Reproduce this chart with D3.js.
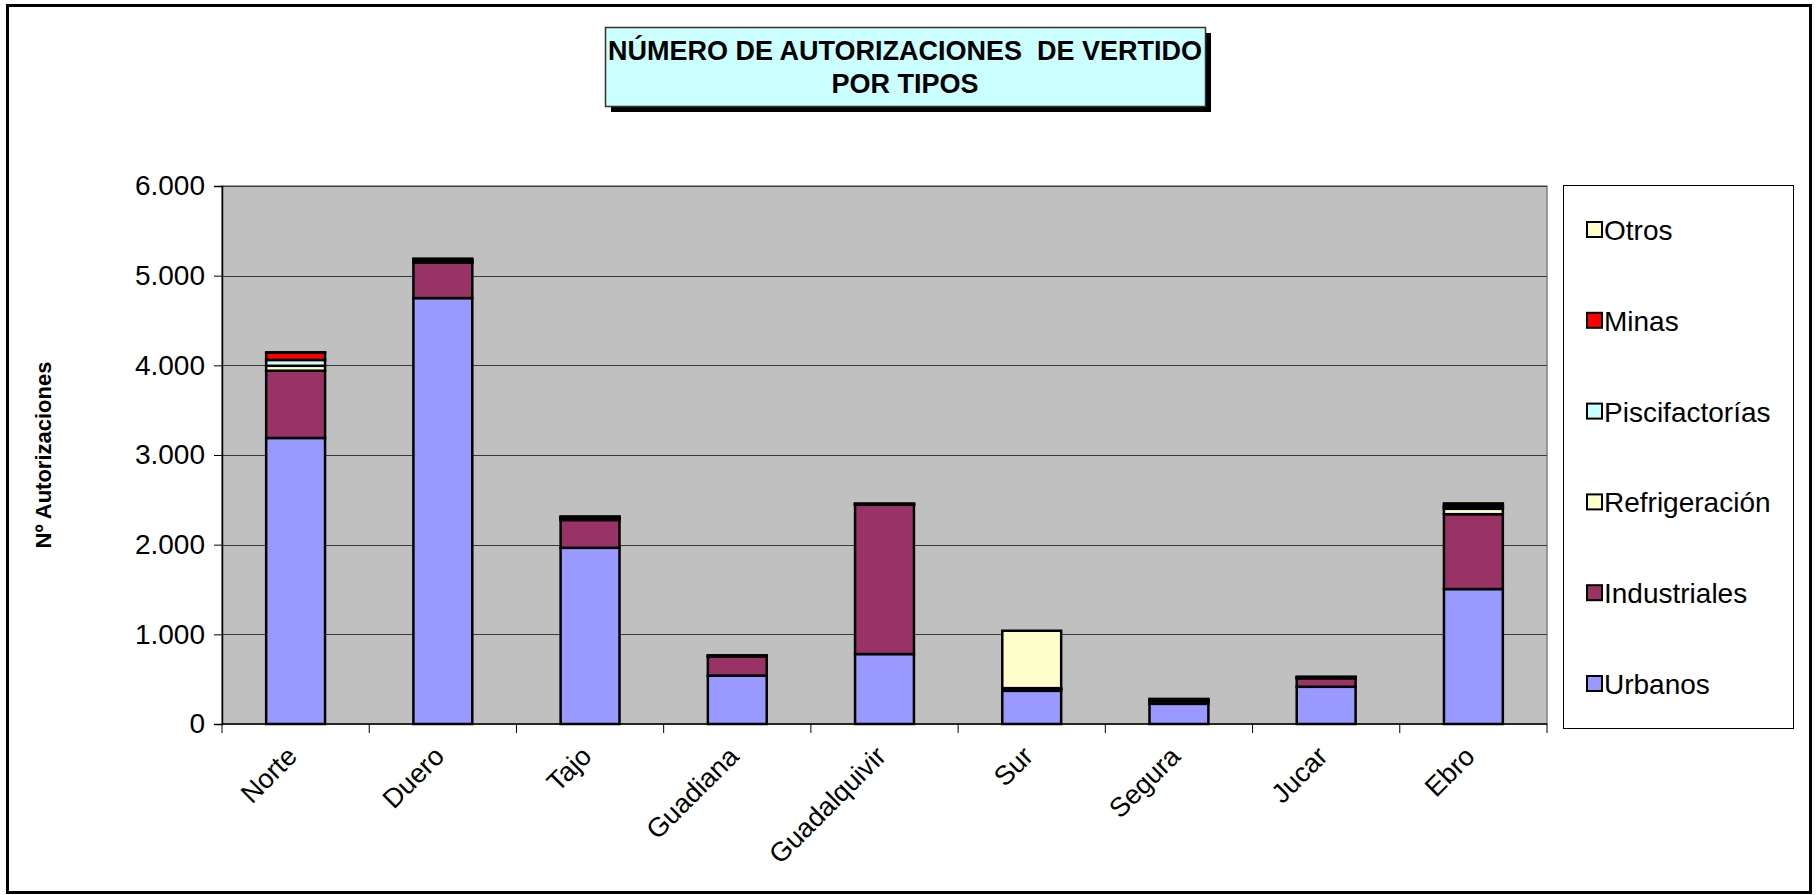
<!DOCTYPE html>
<html>
<head>
<meta charset="utf-8">
<script src="https://cdn.jsdelivr.net/npm/d3@7"></script>
<style>
  body { margin: 0; background: #fff; }
  text { font-family: Arial, "Liberation Sans", sans-serif; }
</style>
</head>
<body>
<svg width="1816" height="895"></svg>
<script>
// canvas size
const width = 1816
const height = 895

// cuencas
const categories = ["Norte", "Duero", "Tajo", "Guadiana", "Guadalquivir", "Sur", "Segura", "Jucar", "Ebro"];
// series values
const urbanos        = [3190, 4750, 1965, 540,  780, 370, 225, 415, 1505];
const industriales   = [ 750,  395,  310, 215, 1665,  20,  30,  95,  835];
const refrigeracion  = [  55,   10,   10,   3,    5,   0,   5,   5,   60];
const piscifactorias = [  65,   15,   15,   5,    3,  10,   5,   5,   20];
const minas          = [  80,    5,    5,   0,    2,   0,   5,   0,   15];
const otros          = [   5,   15,   10,   2,    2, 640,  10,   8,   25];

const seriesNames = ["Urbanos", "Industriales", "Refrigeración", "Piscifactorías", "Minas", "Otros"];
const seriesColors = ["#9999FF", "#993366", "#FFFFCC", "#CCFFFF", "#FF0000", "#FFFFCC"];
const yTicks = [0, 1000, 2000, 3000, 4000, 5000, 6000];

var svg = d3.select(document.getElementsByTagName('svg')[0])

// build rows for d3.stack
var allSeries = [urbanos, industriales, refrigeracion, piscifactorias, minas, otros];
var rows = categories.map(function(c, i){
  var r = {cat: c};
  seriesNames.forEach(function(s, j){ r[s] = allSeries[j][i]; });
  return r;
});

// plot area (note: "top" is taken by window.top, so pTop etc.)
var pLeft = 222, pRight = 1547, pTop = 186, pBottom = 724;

// outer border
svg.append('rect')
  .attr('x', 7.5).attr('y', 5.5)
  .attr('width', 1803).attr('height', 887)
  .style('fill', 'none').style('stroke', 'black').style('stroke-width', 3)

var x = d3.scaleBand().domain(categories).range([pLeft, pRight]).padding(0);
var y = d3.scaleLinear().domain([0, 6000]).range([pBottom, pTop]);

// plot background
svg.append('rect')
  .attr('x', pLeft).attr('y', pTop)
  .attr('width', pRight - pLeft).attr('height', pBottom - pTop)
  .style('fill', '#C0C0C0').style('stroke', '#808080').style('stroke-width', 1.5)

// gridlines
svg.append('g').selectAll('line')
  .data(yTicks.slice(1))
  .enter().append('line')
  .attr('x1', pLeft).attr('x2', pRight)
  .attr('y1', d => Math.round(y(d)) + 0.5).attr('y2', d => Math.round(y(d)) + 0.5)
  .style('stroke', '#3a3a3a').style('stroke-width', 1.2)

// stacked bars
var stack = d3.stack().keys(seriesNames)(rows);
var barW = x.bandwidth() * 0.4;

svg.append('g').selectAll('g')
  .data(stack)
  .enter().append('g')
  .style('fill', (d, i) => seriesColors[i])
  .selectAll('rect')
  .data(d => d)
  .enter().append('rect')
  .attr('x', d => x(d.data.cat) + (x.bandwidth() - barW) / 2)
  .attr('y', d => y(d[1]))
  .attr('width', barW)
  .attr('height', d => Math.max(0, y(d[0]) - y(d[1])))
  .style('stroke', 'black').style('stroke-width', 2.5)

// y axis
var yAxis = d3.axisLeft(y).tickValues(yTicks).tickSize(8).tickPadding(9)
  .tickFormat(d => d3.format(",")(d).replace(/,/g, "."));
var ya = svg.append('g').attr('transform', 'translate(' + pLeft + ',0)').call(yAxis);
ya.select('.domain').style('stroke', 'black').style('stroke-width', 1.5)
ya.selectAll('.tick line').style('stroke', 'black')
ya.selectAll('text').style('font-size', '28px').style('fill', 'black').style('font-family', 'Arial, "Liberation Sans", sans-serif')

// x axis, ticks on the band edges
var xa = svg.append('g').attr('transform', 'translate(0,' + pBottom + ')');
xa.append('line').attr('x1', pLeft).attr('x2', pRight).style('stroke', 'black').style('stroke-width', 1.5)
xa.selectAll('line.tk')
  .data(categories.concat(["_end"]))
  .enter().append('line').attr('class', 'tk')
  .attr('x1', (d, i) => i < categories.length ? x(d) : pRight)
  .attr('x2', (d, i) => i < categories.length ? x(d) : pRight)
  .attr('y1', 0).attr('y2', 9)
  .style('stroke', 'black')
xa.selectAll('text')
  .data(categories)
  .enter().append('text')
  .attr('text-anchor', 'end')
  .attr('transform', d => 'translate(' + (x(d) + x.bandwidth() / 2 + 3) + ',34) rotate(-45)')
  .style('font-size', '27px')
  .text(d => d)

// y axis title
svg.append('text')
  .attr('transform', 'translate(51,' + ((pTop + pBottom) / 2) + ') rotate(-90)')
  .attr('text-anchor', 'middle')
  .style('font-size', '22px').style('font-weight', 'bold')
  .text('Nº Autorizaciones')

// title box with shadow
svg.append('rect').attr('x', 611).attr('y', 33).attr('width', 600).attr('height', 79).style('fill', 'black')
svg.append('rect').attr('x', 605.5).attr('y', 27.5).attr('width', 600).attr('height', 79)
  .style('fill', '#CCFFFF').style('stroke', '#333').style('stroke-width', 1.5)
var title = svg.append('text').attr('text-anchor', 'middle')
  .style('font-size', '27px').style('font-weight', 'bold')
title.append('tspan').attr('x', 905).attr('y', 60).attr('xml:space', 'preserve').text('NÚMERO DE AUTORIZACIONES  DE VERTIDO')
title.append('tspan').attr('x', 905).attr('y', 93).text('POR TIPOS')

// legend
svg.append('rect').attr('x', 1563.5).attr('y', 185.5).attr('width', 230).attr('height', 543)
  .style('fill', 'white').style('stroke', 'black').style('stroke-width', 1)
var legendOrder = seriesNames.map((s, i) => i).reverse();
var lg = svg.append('g').selectAll('g')
  .data(legendOrder)
  .enter().append('g')
  .attr('transform', (d, k) => 'translate(1587,' + (230 + k * 90.8) + ')')
lg.append('rect').attr('x', 0).attr('y', -8).attr('width', 15).attr('height', 15)
  .style('fill', d => seriesColors[d]).style('stroke', 'black').style('stroke-width', 2)
lg.append('text').attr('x', 17).attr('y', 10)
  .style('font-size', '28px')
  .text(d => seriesNames[d])
</script>
</body>
</html>
